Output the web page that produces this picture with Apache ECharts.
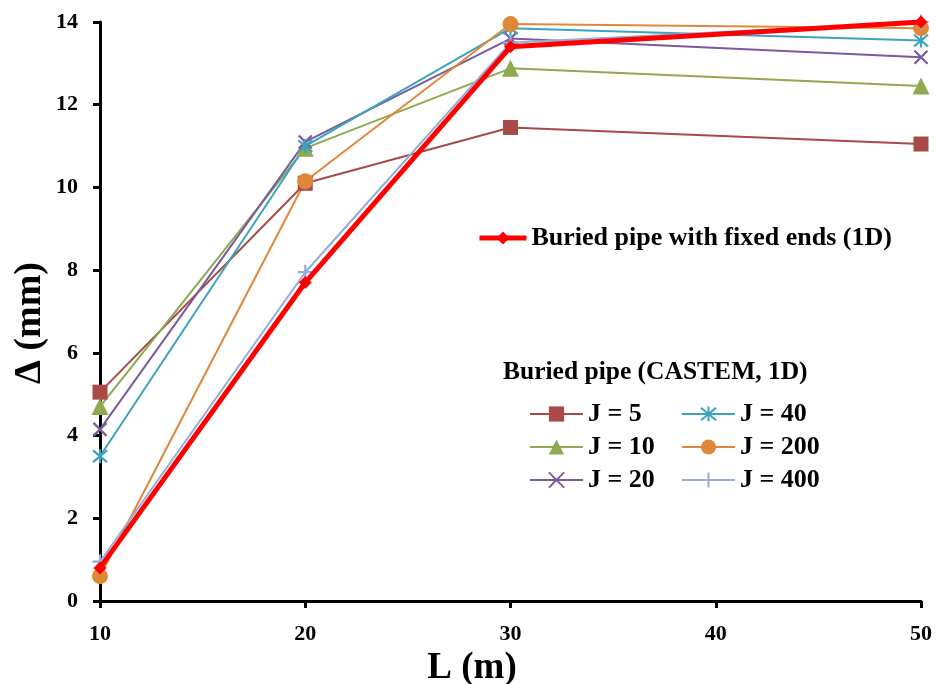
<!DOCTYPE html>
<html><head><meta charset="utf-8">
<script src="https://cdn.jsdelivr.net/npm/echarts@6/dist/echarts.min.js"></script>
<style>html,body{margin:0;padding:0;background:#fff}#c{width:939px;height:684px}</style>
</head><body><div id="c"></div>
<script>
const xValues = [10, 20, 30, 50];
const j5 = [5.05, 10.1, 11.45, 11.05];
const j10 = [4.7, 10.95, 12.88, 12.45];
const j20 = [4.15, 11.1, 13.6, 13.15];
const j40 = [3.5, 11.0, 13.85, 13.55];
const j200 = [0.6, 10.15, 13.95, 13.85];
const j400 = [0.95, 7.95, 13.5, 14.0];
const fixedEnds = [0.8, 7.7, 13.4, 14.0];
const yTicks = [0, 2, 4, 6, 8, 10, 12, 14];
const xTicks = [10, 20, 30, 40, 50];

const font = 'Liberation Serif';
const pts = arr => xValues.map((x, i) => [x, arr[i]]);
const X = 'path://M0 0L10 10M10 0L0 10';
const AST = 'path://M0 0L10 10M10 0L0 10M5 -1L5 11';
const PLUS = 'path://M5 0L5 10M0 5L10 5';

function ser(name, data, color, symbol, size, stroke) {
  return {
    name, type: 'line', data: pts(data), symbol, symbolSize: size,
    lineStyle: {color, width: 2},
    itemStyle: stroke ? {color: 'none', borderColor: color, borderWidth: 2.2} : {color},
    color, z: 2
  };
}
const legText = {fontFamily: font, fontWeight: 'bold', fontSize: 26, color: '#000'};
const chart = echarts.init(document.getElementById('c'));
chart.setOption({
  animation: false,
  grid: {left: 100, right: 18, top: 22, bottom: 83, containLabel: false, outerBoundsMode: 'none'},
  xAxis: {
    type: 'value', min: 10, max: 50, interval: 10,
    axisLine: {show: true, onZero: false, lineStyle: {color: '#000', width: 3}},
    axisTick: {show: true, length: 7, lineStyle: {color: '#000', width: 3}},
    axisLabel: {fontFamily: font, fontWeight: 'bold', fontSize: 22, color: '#000', margin: 22},
    splitLine: {show: false}
  },
  yAxis: {
    type: 'value', min: 0, max: 14, interval: 2,
    axisLine: {show: true, lineStyle: {color: '#000', width: 3}},
    axisTick: {show: true, length: 7, lineStyle: {color: '#000', width: 3}},
    axisLabel: {fontFamily: font, fontWeight: 'bold', fontSize: 22, color: '#000', margin: 22},
    splitLine: {show: false}
  },
  legend: [
    {data: ['Buried pipe with fixed ends (1D)'], left: 472, top: 220, itemWidth: 47, itemHeight: 16,
     lineStyle: {width: 5}, textStyle: legText},
    {data: ['J = 5', 'J = 10', 'J = 20'], orient: 'vertical', left: 524, top: 396, itemGap: 7,
     itemWidth: 53, itemHeight: 19, textStyle: legText},
    {data: ['J = 40', 'J = 200', 'J = 400'], orient: 'vertical', left: 676, top: 396, itemGap: 7,
     itemWidth: 53, itemHeight: 19, textStyle: legText}
  ],
  graphic: [
    {type: 'text', left: 503, top: 359,
     style: {text: 'Buried pipe (CASTEM, 1D)', font: 'bold 25.5px "Liberation Serif"', fill: '#000'}},
    {type: 'text', x: 472, y: 668,
     style: {text: 'L (m)', font: 'bold 37px "Liberation Serif"', fill: '#000', align: 'center', verticalAlign: 'middle'}},
    {type: 'text', x: 30, y: 323, rotation: Math.PI / 2,
     style: {text: 'Δ (mm)', font: 'bold 38px "Liberation Serif"', fill: '#000', align: 'center', verticalAlign: 'middle'}}
  ],
  series: [
    ser('J = 5', j5, '#A84A47', 'rect', 15, false),
    ser('J = 10', j10, '#8EA94F', 'triangle', 17, false),
    ser('J = 20', j20, '#7A5B9C', X, 13, true),
    ser('J = 40', j40, '#3BA3BE', AST, 14, true),
    ser('J = 200', j200, '#E0883A', 'circle', 16, false),
    ser('J = 400', j400, '#94ACD9', PLUS, 15, true),
    {name: 'Buried pipe with fixed ends (1D)', type: 'line', data: pts(fixedEnds),
     symbol: 'diamond', symbolSize: 13, color: '#FF0000',
     lineStyle: {color: '#FF0000', width: 5}, itemStyle: {color: '#FF0000'}, z: 3}
  ]
});
</script></body></html>
